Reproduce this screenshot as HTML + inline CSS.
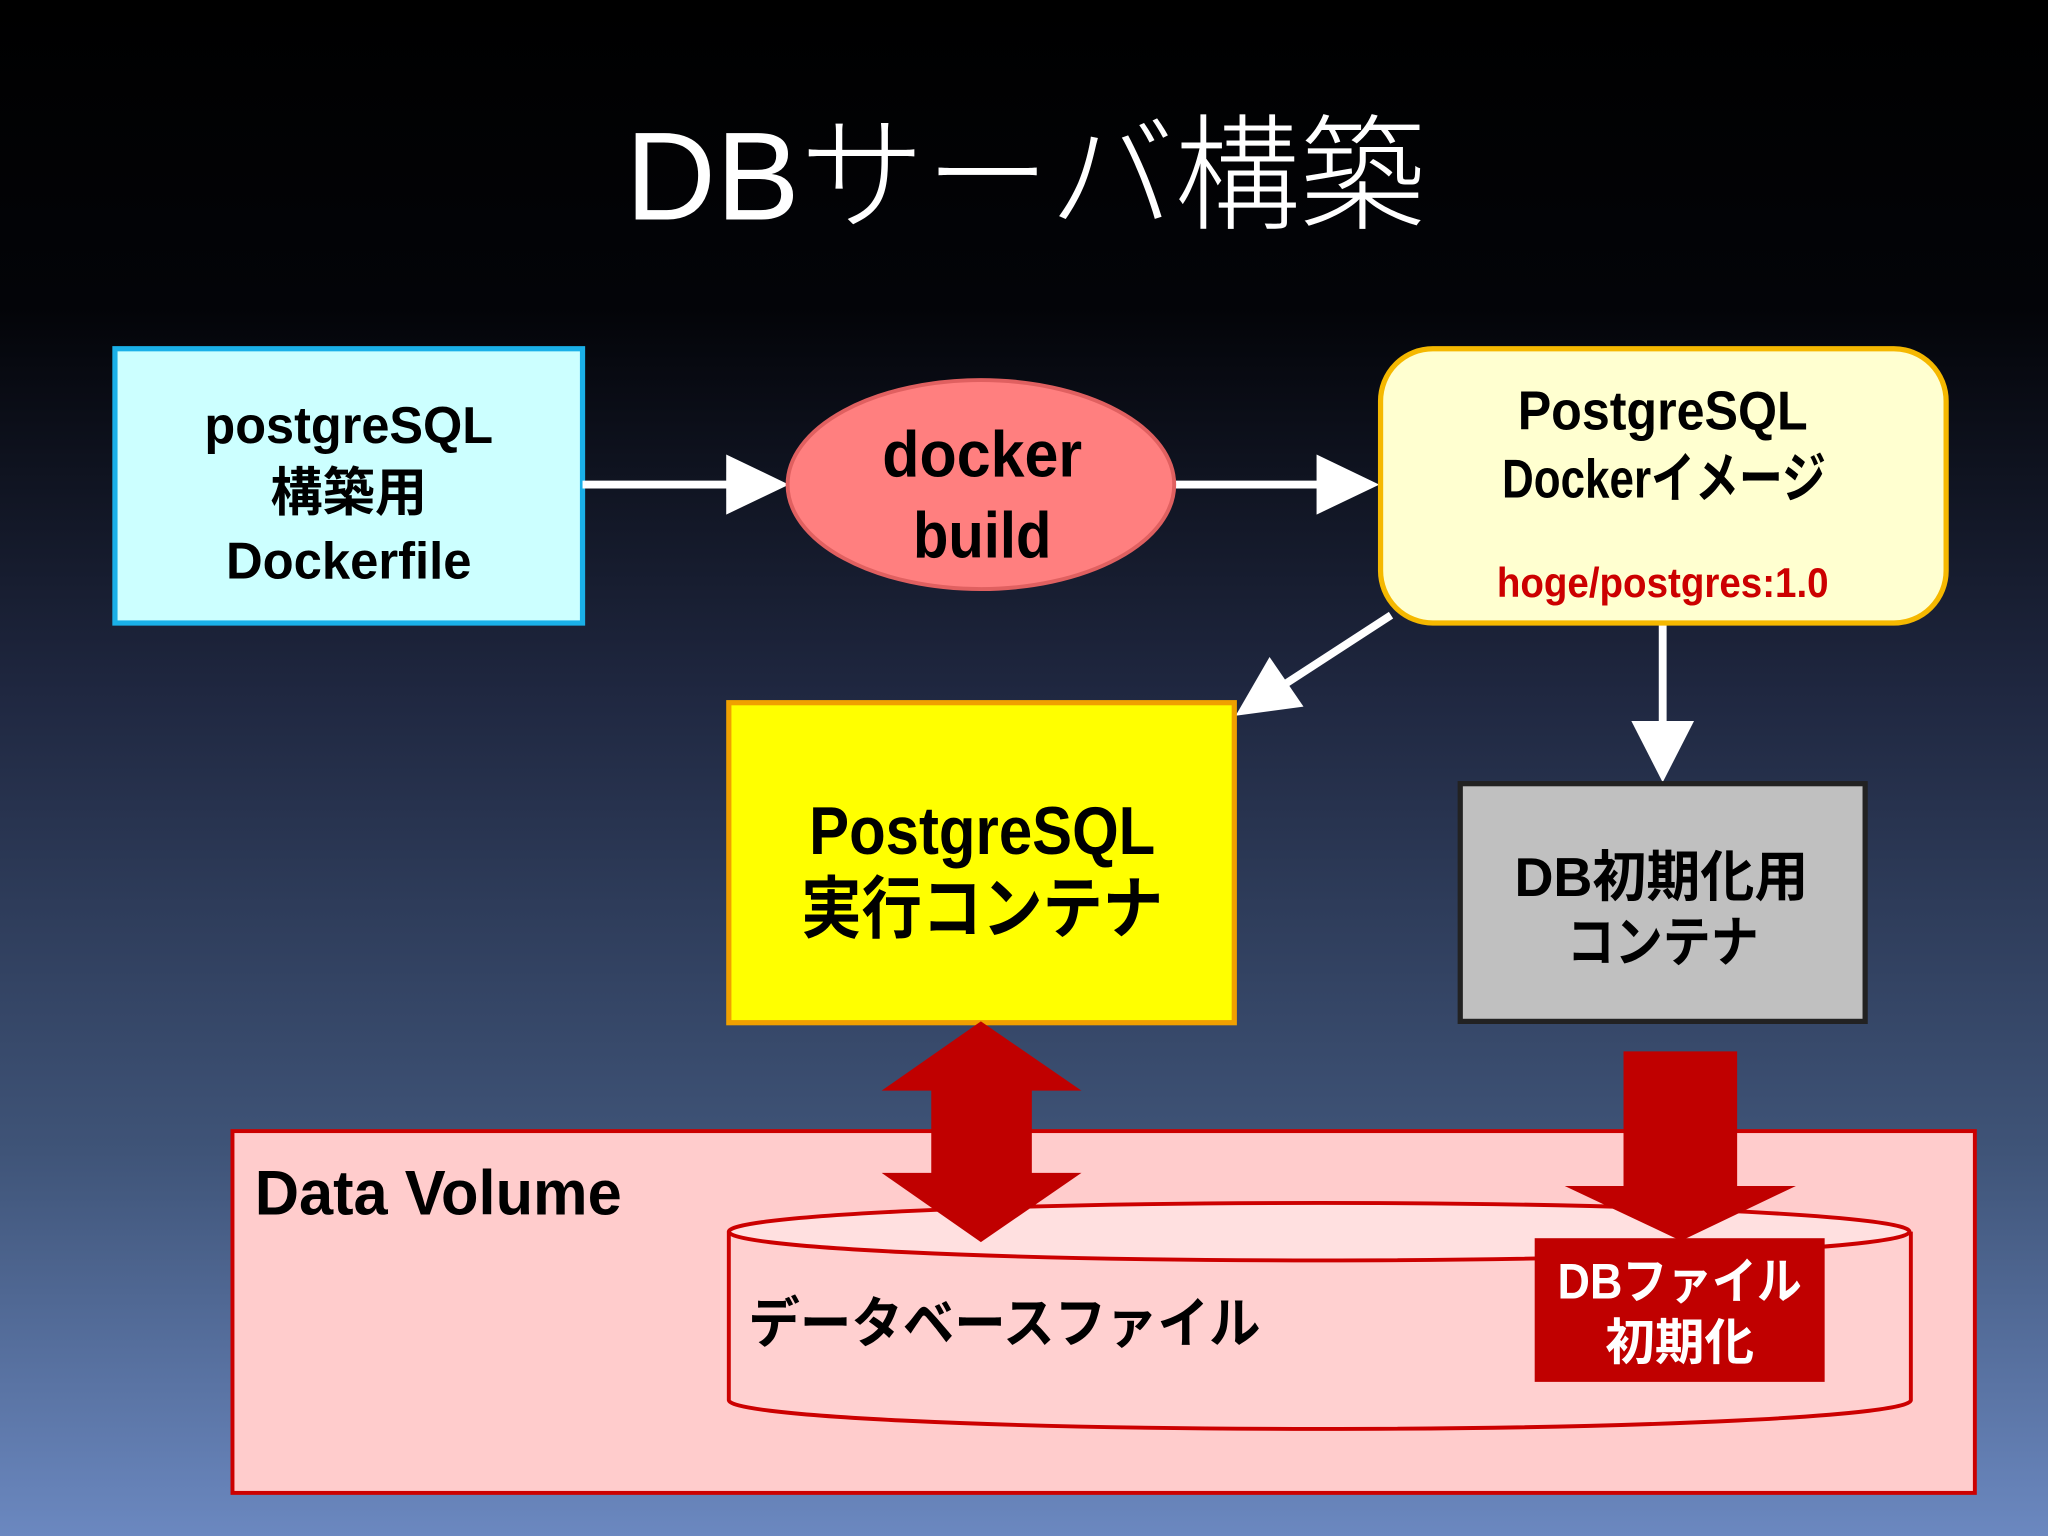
<!DOCTYPE html>
<html><head><meta charset="utf-8"><style>
html,body{margin:0;padding:0;width:2048px;height:1536px;overflow:hidden;background:#000}
svg{display:block}
text{font-family:"Liberation Sans","Noto Sans CJK JP",sans-serif}
</style></head><body>
<svg width="2048" height="1536" viewBox="0 0 1568 1176" xmlns="http://www.w3.org/2000/svg">
<defs>
<linearGradient id="bg" x1="0" y1="0" x2="0" y2="1">
<stop offset="0" stop-color="#000"/>
<stop offset="0.2" stop-color="#030408"/>
<stop offset="0.45" stop-color="#1f2740"/>
<stop offset="0.75" stop-color="#3f5478"/>
<stop offset="1" stop-color="#6b88c0"/>
</linearGradient>
</defs>
<rect width="1568" height="1176" fill="url(#bg)"/>
<text x="785" y="168" fill="#fff" font-size="96" text-anchor="middle" font-weight="300">DBサーバ構築</text>

<rect x="88" y="267" width="358" height="210" fill="#ccffff" stroke="#1ab0e8" stroke-width="4"/>
<g font-size="40" font-weight="bold" text-anchor="middle" fill="#000">
<text x="267" y="339" textLength="221" lengthAdjust="spacingAndGlyphs">postgreSQL</text>
<text x="267" y="391">構築用</text>
<text x="267" y="443" textLength="188" lengthAdjust="spacingAndGlyphs">Dockerfile</text>
</g>

<g stroke="#fff" stroke-width="6" fill="#fff">
<line x1="446" y1="371" x2="560" y2="371"/>
<polygon points="556,348 604,371 556,394" stroke="none"/>
<line x1="900" y1="371" x2="1012" y2="371"/>
<polygon points="1008,348 1056,371 1008,394" stroke="none"/>
<line x1="1065" y1="471" x2="985" y2="523"/>
<polygon points="946,548 972,503 998,541" stroke="none"/>
<line x1="1273" y1="477" x2="1273" y2="556"/>
<polygon points="1249,552 1297,552 1273,599" stroke="none"/>
</g>

<ellipse cx="751" cy="371" rx="148" ry="80" fill="#ff7f7f" stroke="#e06060" stroke-width="3"/>
<g font-size="50" font-weight="bold" text-anchor="middle" fill="#000">
<text x="752" y="365" textLength="153" lengthAdjust="spacingAndGlyphs">docker</text>
<text x="752" y="427" textLength="106" lengthAdjust="spacingAndGlyphs">build</text>
</g>

<rect x="1057" y="267" width="433" height="210" rx="40" fill="#ffffd0" stroke="#f5b800" stroke-width="4"/>
<g font-size="42" font-weight="bold" text-anchor="middle" fill="#000">
<text x="1273" y="329" textLength="222" lengthAdjust="spacingAndGlyphs">PostgreSQL</text>
<text x="1274" y="381" textLength="248" lengthAdjust="spacingAndGlyphs">Dockerイメージ</text>
</g>
<text x="1273" y="457" font-size="32" font-weight="bold" text-anchor="middle" fill="#cc0000" textLength="254" lengthAdjust="spacingAndGlyphs">hoge/postgres:1.0</text>

<rect x="558" y="538" width="387" height="245" fill="#ffff00" stroke="#f0a000" stroke-width="4"/>
<g font-size="52" font-weight="bold" text-anchor="middle" fill="#000">
<text x="752" y="654" textLength="265" lengthAdjust="spacingAndGlyphs">PostgreSQL</text>
<text x="752" y="714" textLength="277" lengthAdjust="spacingAndGlyphs">実行コンテナ</text>
</g>

<rect x="1118" y="600" width="310" height="182" fill="#c0c0c0" stroke="#222" stroke-width="4"/>
<g font-size="42" font-weight="bold" text-anchor="middle" fill="#000">
<text x="1272" y="686" textLength="225" lengthAdjust="spacingAndGlyphs">DB初期化用</text>
<text x="1273" y="736" textLength="147" lengthAdjust="spacingAndGlyphs">コンテナ</text>
</g>

<rect x="178" y="866" width="1334" height="277" fill="#ffcccc" stroke="#cc0000" stroke-width="3"/>
<text x="195" y="930" font-size="48" font-weight="bold" fill="#000" textLength="281" lengthAdjust="spacingAndGlyphs">Data Volume</text>

<path d="M558,943 L558,1072 A452,22 0 0 0 1463,1072 L1463,943" fill="#ffd0d0" stroke="#cc0000" stroke-width="3"/>
<ellipse cx="1010" cy="943" rx="452" ry="22" fill="#ffe0e0" stroke="#cc0000" stroke-width="3"/>
<text x="573" y="1028" font-size="42" font-weight="bold" fill="#000" textLength="392" lengthAdjust="spacingAndGlyphs">データベースファイル</text>

<polygon fill="#c00000" points="751,782 828,835 790,835 790,898 828,898 751,951 675,898 713,898 713,835 675,835"/>
<polygon fill="#c00000" points="1243,805 1330,805 1330,908 1375,908 1287,950 1198,908 1243,908"/>

<rect x="1175" y="948" width="222" height="110" fill="#c00000"/>
<g font-size="38" font-weight="bold" text-anchor="middle" fill="#fff">
<text x="1286" y="994" textLength="187" lengthAdjust="spacingAndGlyphs">DBファイル</text>
<text x="1286" y="1041">初期化</text>
</g>
</svg>
</body></html>
